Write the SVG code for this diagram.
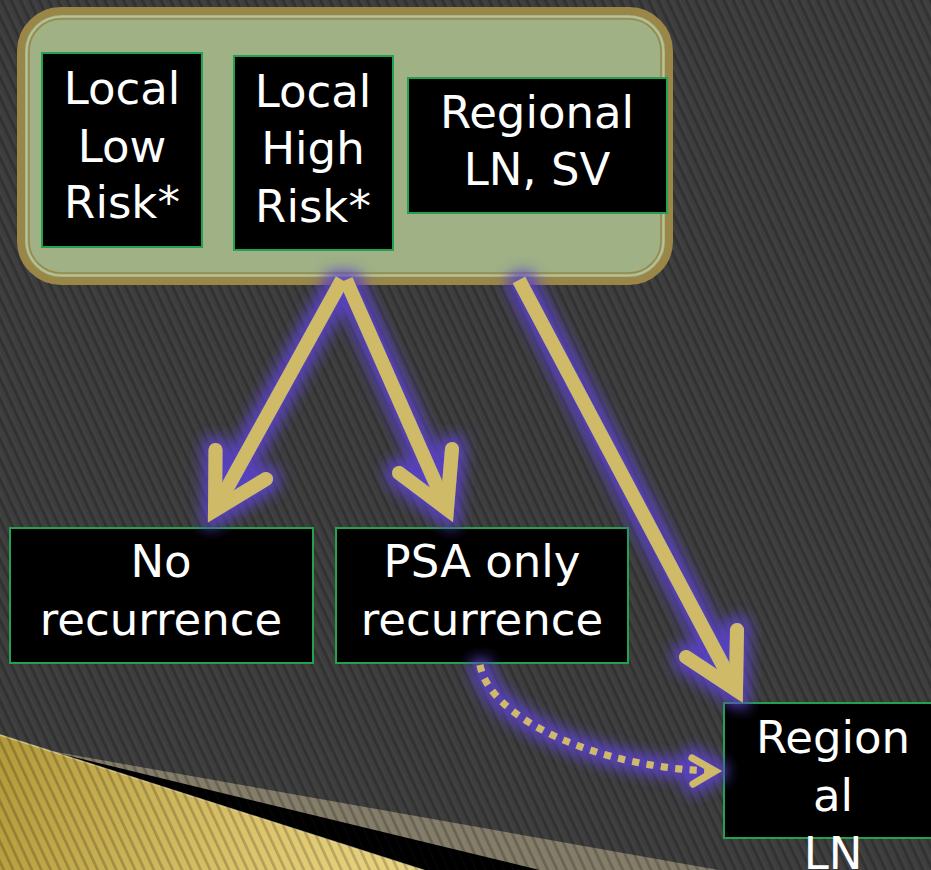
<svg xmlns="http://www.w3.org/2000/svg" width="931" height="870" viewBox="0 0 931 870">
  <defs>
    <style>
      .box { fill: #000; stroke: #22a24f; stroke-width: 2; }
      .lbl { fill: #fff; font-family: "DejaVu Sans", "Liberation Sans", sans-serif; font-size: 45px; text-anchor: middle; }
      .shaft { fill: none; stroke: #cfba68; stroke-width: 14; stroke-linecap: butt; }
      .head { fill: none; stroke: #cfba68; stroke-width: 14; stroke-linecap: round; stroke-linejoin: miter; stroke-miterlimit: 10; }
      .dots { fill: none; stroke: #cfba68; stroke-width: 7; stroke-dasharray: 7 7.5; }
      .dhead { fill: none; stroke: #cfba68; stroke-width: 7; stroke-linecap: round; stroke-linejoin: miter; stroke-miterlimit: 10; }
    </style>
    <!-- diagonal texture laid over the backdrop -->
    <pattern id="stripes" patternUnits="userSpaceOnUse" width="8.5" height="20" patternTransform="rotate(-25)">
      <rect x="0" y="0" width="2.6" height="20" fill="#000" fill-opacity="0.2"/>
      <rect x="4" y="0" width="1" height="20" fill="#fff" fill-opacity="0.03"/>
    </pattern>
    <linearGradient id="goldFill" gradientUnits="userSpaceOnUse" x1="0" y1="760" x2="430" y2="880">
      <stop offset="0" stop-color="#b39a3a"/>
      <stop offset="0.6" stop-color="#dcc46c"/>
      <stop offset="1" stop-color="#ecd683"/>
    </linearGradient>
    <filter id="glow" x="-30%" y="-30%" width="160%" height="160%">
      <feMorphology in="SourceAlpha" operator="dilate" radius="6" result="d"/>
      <feGaussianBlur in="d" stdDeviation="7" result="b"/>
      <feFlood flood-color="#5a42c8" flood-opacity="0.9"/>
      <feComposite in2="b" operator="in" result="g"/>
      <feMerge><feMergeNode in="g"/><feMergeNode in="SourceGraphic"/></feMerge>
    </filter>
  </defs>

  <!-- backdrop -->
  <rect x="0" y="0" width="931" height="870" fill="#3d3d3d"/>
  <g id="corner-band">
    <polygon points="45,750 960,913 960,990 0,990" fill="#827c68"/>
    <polygon points="45,750 960,972 960,990 0,990" fill="#000"/>
    <polygon points="0,735 520,901 0,901" fill="url(#goldFill)"/>
    <line x1="0" y1="735" x2="520" y2="901" stroke="#efe2a6" stroke-width="1.5" stroke-opacity="0.7"/>
  </g>
  <rect x="0" y="0" width="931" height="870" fill="url(#stripes)"/>

  <!-- stage group frame -->
  <g id="stage-frame">
    <rect x="21" y="11" width="648" height="270" rx="40" fill="#9fb185" stroke="#9a8748" stroke-width="8"/>
    <rect x="26.5" y="16.5" width="637" height="259" rx="35" fill="none" stroke="#b6c59c" stroke-width="1.6"/>
    <rect x="29" y="19" width="632" height="254" rx="32" fill="none" stroke="#9a8748" stroke-width="1.6"/>
  </g>

  <g id="local-low-risk">
    <rect class="box" x="42" y="53" width="160" height="194"/>
    <text class="lbl" x="122" y="104">Local</text>
    <text class="lbl" x="122" y="162">Low</text>
    <text class="lbl" x="122" y="218">Risk*</text>
  </g>
  <g id="local-high-risk">
    <rect class="box" x="234" y="56" width="159" height="194"/>
    <text class="lbl" x="313" y="107">Local</text>
    <text class="lbl" x="313" y="164">High</text>
    <text class="lbl" x="313" y="222">Risk*</text>
  </g>
  <g id="regional-ln-sv">
    <rect class="box" x="408" y="78" width="259" height="135"/>
    <text class="lbl" x="537" y="128">Regional</text>
    <text class="lbl" x="537" y="185">LN, SV</text>
  </g>
  <g id="no-recurrence">
    <rect class="box" x="10" y="528" width="303" height="135"/>
    <text class="lbl" x="161" y="577">No</text>
    <text class="lbl" x="161" y="635">recurrence</text>
  </g>
  <g id="psa-only-recurrence">
    <rect class="box" x="336" y="528" width="292" height="135"/>
    <text class="lbl" x="482" y="577">PSA only</text>
    <text class="lbl" x="482" y="635">recurrence</text>
  </g>
  <g id="regional-ln">
    <rect class="box" x="724" y="703" width="218" height="135"/>
    <text class="lbl" x="833" y="753">Region</text>
    <text class="lbl" x="833" y="811">al</text>
    <text class="lbl" x="833" y="869">LN</text>
  </g>

  <!-- connectors -->
  <g id="connectors" filter="url(#glow)">
    <path class="shaft" d="M342,280 L215,510"/>
    <path class="head" d="M215.5,450 L215,510 L266,479"/>
    <path class="shaft" d="M346,280 L447,509"/>
    <path class="head" d="M452,449 L447,509 L399,473"/>
    <path class="shaft" d="M519,280 L736,690"/>
    <path class="head" d="M737,630 L736,690 L686,657"/>
    <path class="dots" d="M480,665 C490,720 600,768 712,771"/>
    <path class="dhead" d="M692,758 L715,771 L693,784"/>
  </g>
</svg>
